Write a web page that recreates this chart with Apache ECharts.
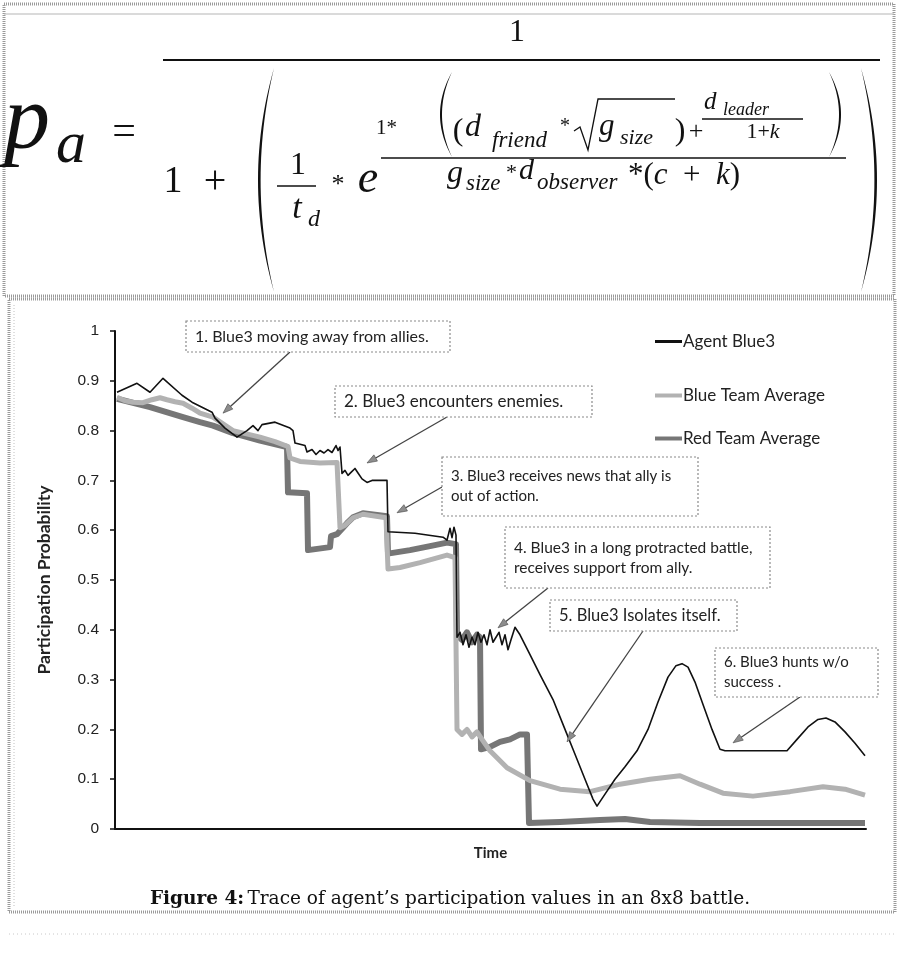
<!DOCTYPE html>
<html>
<head>
<meta charset="utf-8">
<script src="https://cdn.jsdelivr.net/npm/echarts@6/dist/echarts.min.js"></script>
<style>
html,body{margin:0;padding:0;background:#fff;}
#chart{width:899px;height:961px;}
</style>
</head>
<body>
<div id="chart"></div>
<script>
// ---- data: time step vs. participation probability ----
const seriesNames = ['Agent Blue3', 'Blue Team Average', 'Red Team Average'];

const agentBlue3 = [[2,0.877],[22,0.895],[35,0.877],[48,0.905],[67,0.871],[77,0.857],[97,0.837],[100,0.825],[110,0.805],[122,0.787],[132,0.800],[138,0.810],[143,0.800],[147,0.812],[160,0.817],[175,0.805],[178,0.800],[180,0.775],[190,0.770],[192,0.757],[197,0.762],[201,0.752],[205,0.760],[209,0.755],[213,0.762],[217,0.756],[221,0.770],[223,0.760],[225,0.767],[227,0.714],[230,0.720],[233,0.710],[236,0.716],[240,0.724],[243,0.715],[247,0.703],[252,0.696],[257,0.700],[272,0.700],[273,0.597],[300,0.594],[328,0.586],[332,0.580],[335,0.604],[337,0.585],[339,0.606],[341,0.590],[342,0.385],[345,0.395],[348,0.370],[351,0.390],[354,0.365],[357,0.385],[360,0.370],[363,0.395],[366,0.375],[369,0.390],[372,0.370],[375,0.400],[378,0.375],[381,0.385],[384,0.395],[387,0.370],[390,0.390],[393,0.360],[396,0.380],[400,0.405],[405,0.390],[415,0.350],[425,0.310],[438,0.260],[450,0.200],[460,0.150],[470,0.100],[478,0.060],[482,0.046],[490,0.070],[500,0.100],[510,0.125],[522,0.157],[533,0.200],[543,0.255],[553,0.305],[561,0.328],[567,0.332],[573,0.325],[580,0.295],[588,0.250],[597,0.200],[605,0.160],[610,0.157],[672,0.157],[682,0.180],[693,0.205],[703,0.220],[711,0.223],[720,0.215],[730,0.195],[740,0.172],[750,0.147]];

const blueTeamAvg = [[2,0.867],[10,0.860],[18,0.857],[28,0.856],[37,0.862],[45,0.866],[52,0.862],[60,0.858],[68,0.855],[77,0.845],[85,0.835],[98,0.827],[118,0.800],[145,0.787],[160,0.778],[173,0.768],[175,0.745],[185,0.738],[205,0.735],[222,0.736],[225,0.605],[230,0.610],[238,0.625],[248,0.632],[271,0.625],[273,0.522],[285,0.525],[305,0.535],[332,0.550],[340,0.545],[342,0.200],[347,0.190],[352,0.200],[357,0.185],[362,0.195],[367,0.180],[375,0.157],[392,0.123],[415,0.097],[445,0.080],[475,0.075],[505,0.090],[535,0.100],[565,0.107],[585,0.090],[608,0.072],[638,0.066],[675,0.075],[708,0.085],[730,0.080],[750,0.068]];

const redTeamAvg = [[2,0.864],[35,0.847],[68,0.827],[85,0.817],[98,0.810],[118,0.795],[145,0.780],[172,0.767],[173,0.676],[192,0.674],[193,0.560],[215,0.566],[216,0.588],[222,0.592],[228,0.605],[232,0.614],[238,0.626],[248,0.634],[272,0.628],[273,0.553],[295,0.560],[315,0.568],[332,0.575],[341,0.572],[342,0.390],[347,0.380],[352,0.395],[357,0.375],[362,0.390],[365,0.385],[366,0.160],[375,0.165],[385,0.175],[395,0.180],[405,0.190],[412,0.190],[414,0.012],[445,0.014],[485,0.018],[510,0.020],[535,0.014],[585,0.012],[750,0.012]];

const yTickLabels = ['0','0.1','0.2','0.3','0.4','0.5','0.6','0.7','0.8','0.9','1'];

// annotation texts and the point (time, probability) each arrow points at
const noteTexts = [
  '1. Blue3 moving away from allies.',
  '2. Blue3 encounters enemies.',
  '3. Blue3 receives news that ally is\nout of action.',
  '4. Blue3 in a long protracted battle,\nreceives support from ally.',
  '5. Blue3 Isolates itself.',
  '6. Blue3 hunts w/o\nsuccess .'
];
const noteTargets = [[108,0.835],[252,0.735],[282,0.635],[383,0.404],[452,0.175],[618,0.173]];

// ---- layout of the annotation boxes (pixels) ----
const noteBoxes = [
  {x:186, y:321, w:264, h:31, tail:[290,352], font:16},
  {x:335, y:386, w:257, h:31, tail:[447,417], font:17},
  {x:442, y:457, w:256, h:59, tail:[442,487], font:15},
  {x:505, y:527, w:265, h:61, tail:[548,588], font:15.5},
  {x:550, y:600, w:187, h:31, tail:[643,631], font:16.5},
  {x:715, y:648, w:163, h:49, tail:[800,697], font:15}
];

const chart = echarts.init(document.getElementById('chart'));

const lineColors = {'Agent Blue3':'#111111','Blue Team Average':'#b2b2b2','Red Team Average':'#767676'};

chart.setOption({
  animation: false,
  backgroundColor: '#ffffff',
  grid: {left:115, right:33, top:331, bottom:132, containLabel:false},
  xAxis: {
    type:'value', min:0, max:751,
    axisLine:{show:true, onZero:false, lineStyle:{color:'#111', width:2}},
    axisTick:{show:false}, axisLabel:{show:false}, splitLine:{show:false},
    name:'Time', nameLocation:'middle', nameGap:17,
    nameTextStyle:{fontFamily:'Lato', fontWeight:'bold', fontSize:15, color:'#222'}
  },
  yAxis: {
    type:'value', min:0, max:1, interval:0.1,
    axisLine:{show:true, lineStyle:{color:'#111', width:2}},
    axisTick:{show:true, length:5, lineStyle:{color:'#111', width:1.5}},
    axisLabel:{margin:16, color:'#222', fontFamily:'Liberation Sans', fontSize:15.5,
      formatter: v => yTickLabels[Math.round(v*10)]},
    splitLine:{show:false},
    name:'Participation Probability', nameLocation:'middle', nameGap:62, nameRotate:90,
    nameTextStyle:{fontFamily:'Lato', fontWeight:'bold', fontSize:17.5, color:'#222'}
  },
  legend: seriesNames.map((n, i) => ({
    data:[n], left:655, top:[333,387,430][i], padding:0, selectedMode:false,
    icon:'rect', itemWidth:27, itemHeight:[3,4,4][i],
    textStyle:{fontFamily:'Lato', fontSize:17, color:'#222', padding:[0,0,0,-4]}
  })),
  series: [
    {name:'Red Team Average', type:'line', data:redTeamAvg, symbol:'none', z:2,
     lineStyle:{color:lineColors['Red Team Average'], width:6, join:'round'},
     itemStyle:{color:lineColors['Red Team Average']}},
    {name:'Blue Team Average', type:'line', data:blueTeamAvg, symbol:'none', z:3,
     lineStyle:{color:lineColors['Blue Team Average'], width:5, join:'round'},
     itemStyle:{color:lineColors['Blue Team Average']}},
    {name:'Agent Blue3', type:'line', data:agentBlue3, symbol:'none', z:4,
     lineStyle:{color:lineColors['Agent Blue3'], width:1.6, join:'round'},
     itemStyle:{color:lineColors['Agent Blue3']}}
  ]
});

// ---- graphic helpers ----
const SERIF = '"Liberation Serif", "DejaVu Serif", serif';
function txt(text, x, y, size, opt) {
  opt = opt || {};
  return {type:'text', z:10, style:{
    text:text, x:x, y:y,
    font:(opt.italic ? 'italic ' : '') + (opt.bold ? 'bold ' : '') + size + 'px ' + (opt.family || SERIF),
    fill: opt.fill || '#111', align: opt.align || 'left', verticalAlign: opt.valign || 'middle'
  }};
}
function seg(x1, y1, x2, y2, w, color, dash) {
  return {type:'line', z:10, shape:{x1:x1,y1:y1,x2:x2,y2:y2},
    style:{stroke:color || '#111', lineWidth:w || 1.5, lineDash:dash || null}};
}
// tall bracket drawn as a thin crescent; side -1 for '(' and +1 for ')'
function bracket(x, y0, y1, bulge, thick, side) {
  const N = 30, outer = [], inner = [];
  for (let i = 0; i <= N; i++) {
    const t = i / N, y = y0 + (y1 - y0) * t, k = 4 * t * (1 - t);
    outer.push([x + side * k * bulge, y]);
    inner.push([x + side * k * (bulge - thick), y]);
  }
  return {type:'polygon', z:10, shape:{points: outer.concat(inner.reverse())}, style:{fill:'#111'}};
}

const g = [];

// frames around the equation and the plot
g.push({type:'rect', z:1, shape:{x:4, y:4, width:890, height:292}, style:{fill:null, stroke:'#9a9a9a', lineWidth:3, lineDash:[1,1]}});
g.push(seg(4, 14, 894, 14, 1, '#b5b5b5'));
g.push({type:'rect', z:1, shape:{x:9, y:299, width:886, height:613}, style:{fill:null, stroke:'#9a9a9a', lineWidth:3, lineDash:[1,1]}});
g.push(seg(14, 305, 14, 906, 1, '#c0c0c0', [1,2]));
g.push(seg(9, 934, 894, 934, 1, '#c8c8c8', [1,3]));

// ---- equation ----
g.push(txt('p', 4, 124, 92, {italic:true}));
g.push(txt('a', 56, 146, 60, {italic:true}));
g.push(txt('=', 124, 133, 42, {align:'center'}));
g.push(txt('1', 517, 33, 32, {align:'center'}));
g.push(seg(163, 60, 880, 60, 2));
g.push(txt('1', 173, 182, 38, {align:'center'}));
g.push(txt('+', 215, 182, 40, {align:'center'}));
g.push(bracket(274, 68, 292, 16, 2.6, -1));
g.push(bracket(861, 68, 292, 16, 2.6, 1));
g.push(txt('1', 298, 166, 32, {align:'center'}));
g.push(seg(277, 186, 316, 186, 1.6));
g.push(txt('t', 297, 209, 34, {italic:true, align:'center'}));
g.push(txt('d', 314, 220, 24, {italic:true, align:'center'}));
g.push(txt('*', 338, 185, 26, {align:'center'}));
g.push(txt('e', 368, 180, 46, {italic:true, align:'center'}));
// exponent numerator
g.push(txt('1*', 376, 128, 21));
g.push(bracket(452, 72, 157, 12, 2, -1));
g.push(bracket(829, 72, 157, 12, 2, 1));
g.push(txt('(', 458, 132, 32, {align:'center'}));
g.push(txt('d', 465, 128, 32, {italic:true}));
g.push(txt('friend', 492, 141, 23, {italic:true}));
g.push(txt('*', 560, 127, 20));
g.push({type:'polyline', z:10, shape:{points:[[574,131],[580,127],[588,150],[598,99],[675,99]]}, style:{stroke:'#111', lineWidth:1.3, fill:null}});
g.push(txt('g', 599, 127, 31, {italic:true}));
g.push(txt('size', 620, 138, 22, {italic:true}));
g.push(txt(')', 680, 132, 32, {align:'center'}));
g.push(txt('+', 696, 132, 26, {align:'center'}));
g.push(txt('d', 704, 102, 25, {italic:true}));
g.push(txt('leader', 723, 110, 18, {italic:true}));
g.push(seg(702, 119, 803, 119, 1.3));
g.push({type:'text', z:10, style:{text:'{u|1+}{i|k}', x:763, y:132, align:'center', verticalAlign:'middle',
  rich:{u:{font:'22px ' + SERIF, fill:'#111'}, i:{font:'italic 22px ' + SERIF, fill:'#111'}}}});
g.push(seg(381, 158, 846, 158, 1.6));
// exponent denominator
g.push(txt('g', 447, 174, 32, {italic:true}));
g.push(txt('size', 466, 184, 23, {italic:true}));
g.push(txt('*', 506, 173, 22));
g.push(txt('d', 519, 171, 30, {italic:true}));
g.push(txt('observer', 537, 183, 23, {italic:true}));
g.push({type:'text', z:10, style:{text:'{u|*(}{i|c}{u|  +  }{i|k}{u|)}', x:628, y:176, verticalAlign:'middle',
  rich:{u:{font:'31px ' + SERIF, fill:'#111'}, i:{font:'italic 31px ' + SERIF, fill:'#111'}}}});

// ---- annotation boxes and arrows ----
noteBoxes.forEach((b, i) => {
  g.push({type:'rect', z:20, shape:{x:b.x, y:b.y, width:b.w, height:b.h},
    style:{fill:'#fff', stroke:'#8a8a8a', lineWidth:1.2, lineDash:[2,2]}});
  g.push({type:'text', z:21, style:{text:noteTexts[i], x:b.x + 9, y:b.y + b.h / 2,
    verticalAlign:'middle', font:b.font + 'px Lato', fill:'#222', lineHeight:20}});
  const tip = chart.convertToPixel({gridIndex:0}, noteTargets[i]);
  const [tx, ty] = b.tail;
  const dx = tip[0] - tx, dy = tip[1] - ty, L = Math.hypot(dx, dy);
  const ux = dx / L, uy = dy / L, hl = 10, hw = 3.6;
  const bx = tip[0] - ux * hl, by = tip[1] - uy * hl;
  g.push(seg(tx, ty, bx, by, 1.3, '#444'));
  g.push({type:'polygon', z:20, shape:{points:[[tip[0], tip[1]], [bx - uy * hw, by + ux * hw], [bx + uy * hw, by - ux * hw]]},
    style:{fill:'#8d8d8d', stroke:'#444', lineWidth:0.6}});
});

// ---- caption ----
g.push({type:'text', z:10, style:{
  text:'{b|Figure 4:} {r|Trace of agent’s participation values in an 8x8 battle.}',
  x:450, y:899, align:'center', verticalAlign:'middle',
  rich:{b:{font:'bold 18.5px "DejaVu Serif", serif', fill:'#111'}, r:{font:'18.5px "DejaVu Serif", serif', fill:'#111'}}
}});

chart.setOption({graphic:{elements:g}});
</script>
</body>
</html>
